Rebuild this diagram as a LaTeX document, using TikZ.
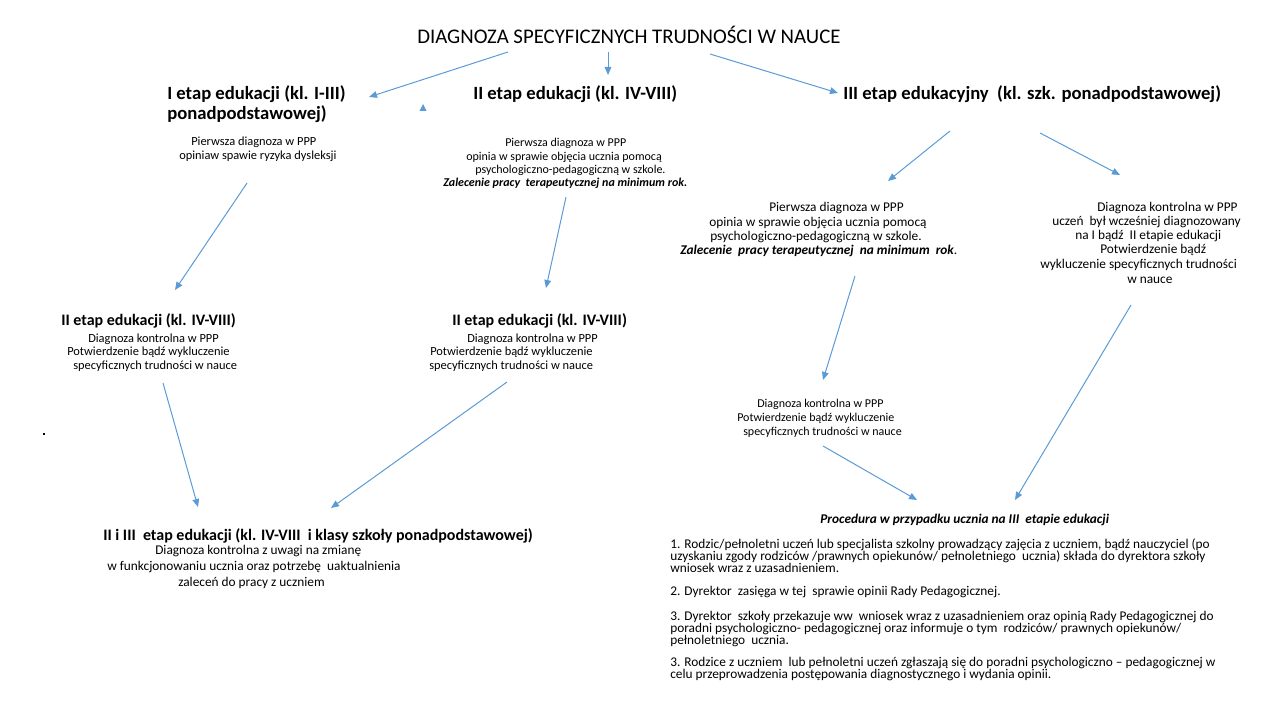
\documentclass[tikz,border=0pt]{standalone}
\usepackage{fontspec}
\setmainfont{Carlito}
\usetikzlibrary{arrows.meta}
\definecolor{arrowblue}{HTML}{5B9BD5}
\tikzset{
  ln/.style={inner sep=0pt, anchor=west, text height=7pt, text depth=2pt},
  ttl/.style={ln, font=\fontsize{15.6}{18}\selectfont},
  headA/.style={ln, font=\bfseries\fontsize{14}{16}\selectfont},
  headB/.style={ln, font=\bfseries\fontsize{12}{14}\selectfont},
  sm/.style={ln, font=\fontsize{9}{10}\selectfont},
  smw/.style={ln, font=\fontsize{9.3}{10}\selectfont},
  md/.style={ln, font=\fontsize{10}{11}\selectfont},
  lst/.style={ln, font=\fontsize{10}{11}\selectfont},
  arr/.style={draw=arrowblue, line width=0.75pt, -{Triangle[length=6pt,width=5pt]}},
}
\begin{document}
\begin{tikzpicture}[x=0.75pt,y=-0.75pt]
\useasboundingbox (0,0) rectangle (1280,720);
% title and stage headings
\node[ttl] (title) at (417,40) {DIAGNOZA SPECYFICZNYCH TRUDNOŚCI W NAUCE};
\node[headA] (h1a) at (167,96) {I etap edukacji (kl. I-III)};
\node[headA] (h1b) at (167,116) {ponadpodstawowej)};
\node[headA] (h2) at (473,96) {II etap edukacji (kl. IV-VIII)};
\node[headA] (h3) at (843,96) {III etap edukacyjny\ \ (kl. szk. ponadpodstawowej)};
% block under I etap
\node[smw] (d1) at (191,142) {Pierwsza diagnoza w PPP};
\node[smw] (d2) at (179,156) {opiniaw spawie ryzyka dysleksji};
% block under II etap
\node[sm] (e1) at (505,143) {Pierwsza diagnoza w PPP};
\node[sm] (e2) at (466,157) {opinia w sprawie objęcia ucznia pomocą};
\node[sm] (e3) at (475,170) {psychologiczno-pedagogiczną w szkole.};
\node[sm] (e4) at (443,183) {\bfseries\itshape Zalecenie pracy\ \ terapeutycznej na minimum rok.};
% blocks under III etap
\node[md] (f1) at (769,208) {Pierwsza diagnoza w PPP};
\node[md] (f2) at (709,223) {opinia w sprawie objęcia ucznia pomocą};
\node[md] (f3) at (710,237) {psychologiczno-pedagogiczną w szkole.};
\node[md] (f4) at (680,251) {{\bfseries\itshape Zalecenie\ \ pracy terapeutycznej\ \ na minimum\ \ rok}.};
\node[md] (g1) at (1097,208) {Diagnoza kontrolna w PPP};
\node[md] (g2) at (1052,222) {uczeń\ \ był wcześniej diagnozowany};
\node[md] (g3) at (1075,236) {na I bądź\ \ II etapie edukacji};
\node[md] (g4) at (1100,250) {Potwierdzenie bądź};
\node[md] (g5) at (1040,265) {wykluczenie specyficznych trudności};
\node[md] (g6) at (1127,280) {w nauce};
% second row left
\node[headB] (hh) at (61,322) {II etap edukacji (kl. IV-VIII)};
\node[smw] (hh1) at (88,339) {Diagnoza kontrolna w PPP};
\node[smw] (hh2) at (67,352) {Potwierdzenie bądź wykluczenie};
\node[smw] (hh3) at (73,366) {specyficznych trudności w nauce};
\node[headB] (ih) at (452,322) {II etap edukacji (kl. IV-VIII)};
\node[smw] (ih1) at (467,339) {Diagnoza kontrolna w PPP};
\node[smw] (ih2) at (430,352) {Potwierdzenie bądź wykluczenie};
\node[smw] (ih3) at (429,366) {specyficznych trudności w nauce};
% second row right
\node[sm] (j1) at (757,404) {Diagnoza kontrolna w PPP};
\node[sm] (j2) at (737,418) {Potwierdzenie bądź wykluczenie};
\node[sm] (j3) at (743,432) {specyficznych trudności w nauce};
% bottom left
\node[headB] (kh) at (103,537) {II i III\ \ etap edukacji (kl. IV-VIII\ \ i klasy szkoły ponadpodstawowej)};
\node[md] (k1) at (155,551) {Diagnoza kontrolna z uwagi na zmianę};
\node[md] (k2) at (107,567) {w funkcjonowaniu ucznia oraz potrzebę\ \ uaktualnienia};
\node[md] (k3) at (178,583) {zaleceń do pracy z uczniem};
% procedure
\node[lst, font=\bfseries\itshape\fontsize{10}{11}\selectfont] (ph) at (820,520) {Procedura w przypadku ucznia na III\ \ etapie edukacji};
\node[lst] (p1) at (670,545) {1. Rodzic/pełnoletni uczeń lub specjalista szkolny prowadzący zajęcia z uczniem, bądź nauczyciel (po};
\node[lst] (p2) at (670,557.5) {uzyskaniu zgody rodziców /prawnych opiekunów/ pełnoletniego\ \ ucznia) składa do dyrektora szkoły};
\node[lst] (p3) at (670,569.5) {wniosek wraz z uzasadnieniem.};
\node[lst] (p4) at (670,592) {2. Dyrektor\ \ zasięga w tej\ \ sprawie opinii Rady Pedagogicznej.};
\node[lst] (p5) at (670,617) {3. Dyrektor\ \ szkoły przekazuje ww\ \ wniosek wraz z uzasadnieniem oraz opinią Rady Pedagogicznej do};
\node[lst] (p6) at (670,629.5) {poradni psychologiczno- pedagogicznej oraz informuje o tym\ \ rodziców/ prawnych opiekunów/};
\node[lst] (p7) at (670,641.5) {pełnoletniego\ \ ucznia.};
\node[lst] (p8) at (670,663) {3. Rodzice z uczniem\ \ lub pełnoletni uczeń zgłaszają się do poradni psychologiczno – pedagogicznej w};
\node[lst] (p9) at (670,675) {celu przeprowadzenia postępowania diagnostycznego i wydania opinii.};
% arrow end points
\coordinate (a1s) at (508,52);  \coordinate (a1e) at (369,97);
\coordinate (a2s) at (608,52);  \coordinate (a2e) at (608,75);
\coordinate (a3s) at (710,54);  \coordinate (a3e) at (838,93);
\coordinate (a4s) at (247,183); \coordinate (a4e) at (175,290);
\coordinate (a5s) at (566,197); \coordinate (a5e) at (546,288);
\coordinate (a6s) at (950,131); \coordinate (a6e) at (888,181);
\coordinate (a7s) at (1040,133);\coordinate (a7e) at (1120,175);
\coordinate (a8s) at (855,276); \coordinate (a8e) at (823,380);
\coordinate (a9s) at (1131,305);\coordinate (a9e) at (1015,500);
\coordinate (a10s) at (163,383);\coordinate (a10e) at (198,507);
\coordinate (a11s) at (507,382);\coordinate (a11e) at (331,508);
\coordinate (a12s) at (823,446);\coordinate (a12e) at (917,500);
\draw[arr] (a1s) -- (a1e);
\draw[arr] (a2s) -- (a2e);
\draw[arr] (a3s) -- (a3e);
\draw[arr] (a4s) -- (a4e);
\draw[arr] (a5s) -- (a5e);
\draw[arr] (a6s) -- (a6e);
\draw[arr] (a7s) -- (a7e);
\draw[arr] (a8s) -- (a8e);
\draw[arr] (a9s) -- (a9e);
\draw[arr] (a10s) -- (a10e);
\draw[arr] (a11s) -- (a11e);
\draw[arr] (a12s) -- (a12e);
% stray arrowhead and dot
\fill[arrowblue] (419.5,111) -- (426.5,111) -- (423,104) -- cycle;
\fill[black] (43.2,433.2) rectangle (45,435);
\end{tikzpicture}
\end{document}
